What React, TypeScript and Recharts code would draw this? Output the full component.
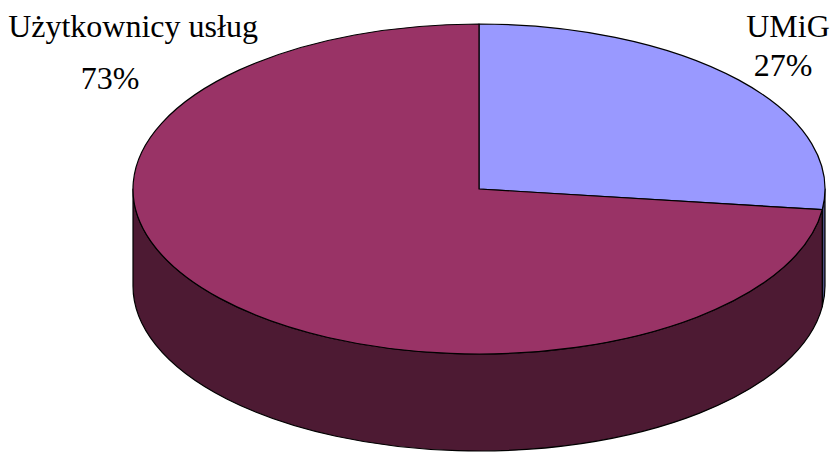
import React from 'react';
import { PieChart, Pie } from 'recharts';

// dane wykresu
const categories = ['UMiG', 'Użytkownicy usług'];
const shares = [27, 73];
const topColors = ['#9999FF', '#993366'];
const sideColors = ['#4D4D80', '#4D1A33'];

const data = categories.map((name, i) => ({ name, value: shares[i] }));

const W = 831;
const H = 452;
const TILT = 165 / 346; // ry / rx
const DEPTH = 97;
const RAD = Math.PI / 180;
const textStyle = {
  fontFamily: "'Times New Roman', Times, 'Liberation Serif', Tinos, 'DejaVu Serif', 'Noto Serif', serif",
  fontSize: 32,
};

// label positions (Excel-style labels above the pie)
const labelPos = [
  { name: [788, 37], pct: [783, 76] },
  { name: [133, 37], pct: [110, 89] },
];

const pt = (cx: number, cy: number, rx: number, ry: number, a: number) =>
  [cx + rx * Math.cos(a * RAD), cy - ry * Math.sin(a * RAD)];

const arc = (rx: number, ry: number, large: number, sweep: number, p: number[]) =>
  `A ${rx} ${ry} 0 ${large} ${sweep} ${p[0]} ${p[1]}`;

const renderSide = (props: any) => {
  const { cx, cy, outerRadius, startAngle, endAngle, index } = props;
  const rx = outerRadius;
  const ry = outerRadius * TILT;
  const lo = Math.min(startAngle, endAngle);
  const hi = Math.max(startAngle, endAngle);
  const parts: React.ReactNode[] = [];
  // front half of the ellipse = angles in [-180, 0] (mod 360)
  for (let k = -2; k <= 1; k++) {
    const a = Math.max(lo, -180 + 360 * k);
    const b = Math.min(hi, 360 * k);
    if (b - a <= 0.01) continue;
    const t1 = pt(cx, cy, rx, ry, b);
    const t2 = pt(cx, cy, rx, ry, a);
    const b2 = pt(cx, cy + DEPTH, rx, ry, a);
    const b1 = pt(cx, cy + DEPTH, rx, ry, b);
    const large = b - a > 180 ? 1 : 0;
    const d = `M ${t1[0]} ${t1[1]} ${arc(rx, ry, large, 1, t2)} L ${b2[0]} ${b2[1]} ${arc(rx, ry, large, 0, b1)} Z`;
    parts.push(
      <path key={k} d={d} fill={sideColors[index]} stroke="#000" strokeWidth={1.2} strokeLinejoin="round" />
    );
  }
  return <g>{parts}</g>;
};

const renderTop = (props: any) => {
  const { cx, cy, outerRadius, startAngle, endAngle, index, percent, name } = props;
  const rx = outerRadius;
  const ry = outerRadius * TILT;
  const lo = Math.min(startAngle, endAngle);
  const hi = Math.max(startAngle, endAngle);
  const p1 = pt(cx, cy, rx, ry, hi);
  const p2 = pt(cx, cy, rx, ry, lo);
  const large = hi - lo > 180 ? 1 : 0;
  const d = `M ${cx} ${cy} L ${p1[0]} ${p1[1]} ${arc(rx, ry, large, 1, p2)} Z`;
  const pos = labelPos[index];
  return (
    <g>
      <path d={d} fill={topColors[index]} stroke="#000" strokeWidth={1.2} strokeLinejoin="round" />
      <text x={pos.name[0]} y={pos.name[1]} textAnchor="middle" style={textStyle} fill="#000" stroke="none">
        {name}
      </text>
      <text x={pos.pct[0]} y={pos.pct[1]} textAnchor="middle" style={textStyle} fill="#000" stroke="none">
        {`${Math.round(percent * 100)}%`}
      </text>
    </g>
  );
};

export default function App() {
  return (
    <div style={{ position: 'absolute', left: 0, top: 0, width: W, height: H, background: '#fff' }}>
      <PieChart width={W} height={H} margin={{ top: 0, right: 0, bottom: 0, left: 0 }}>
        <Pie
          data={data}
          dataKey="value"
          nameKey="name"
          cx={479}
          cy={189}
          outerRadius={346}
          startAngle={90}
          endAngle={-270}
          fill="none"
          stroke="none"
          label={renderSide}
          labelLine={false}
          isAnimationActive={false}
        />
        <Pie
          data={data}
          dataKey="value"
          nameKey="name"
          cx={479}
          cy={189}
          outerRadius={346}
          startAngle={90}
          endAngle={-270}
          fill="none"
          stroke="none"
          label={renderTop}
          labelLine={false}
          isAnimationActive={false}
        />
      </PieChart>
    </div>
  );
}
